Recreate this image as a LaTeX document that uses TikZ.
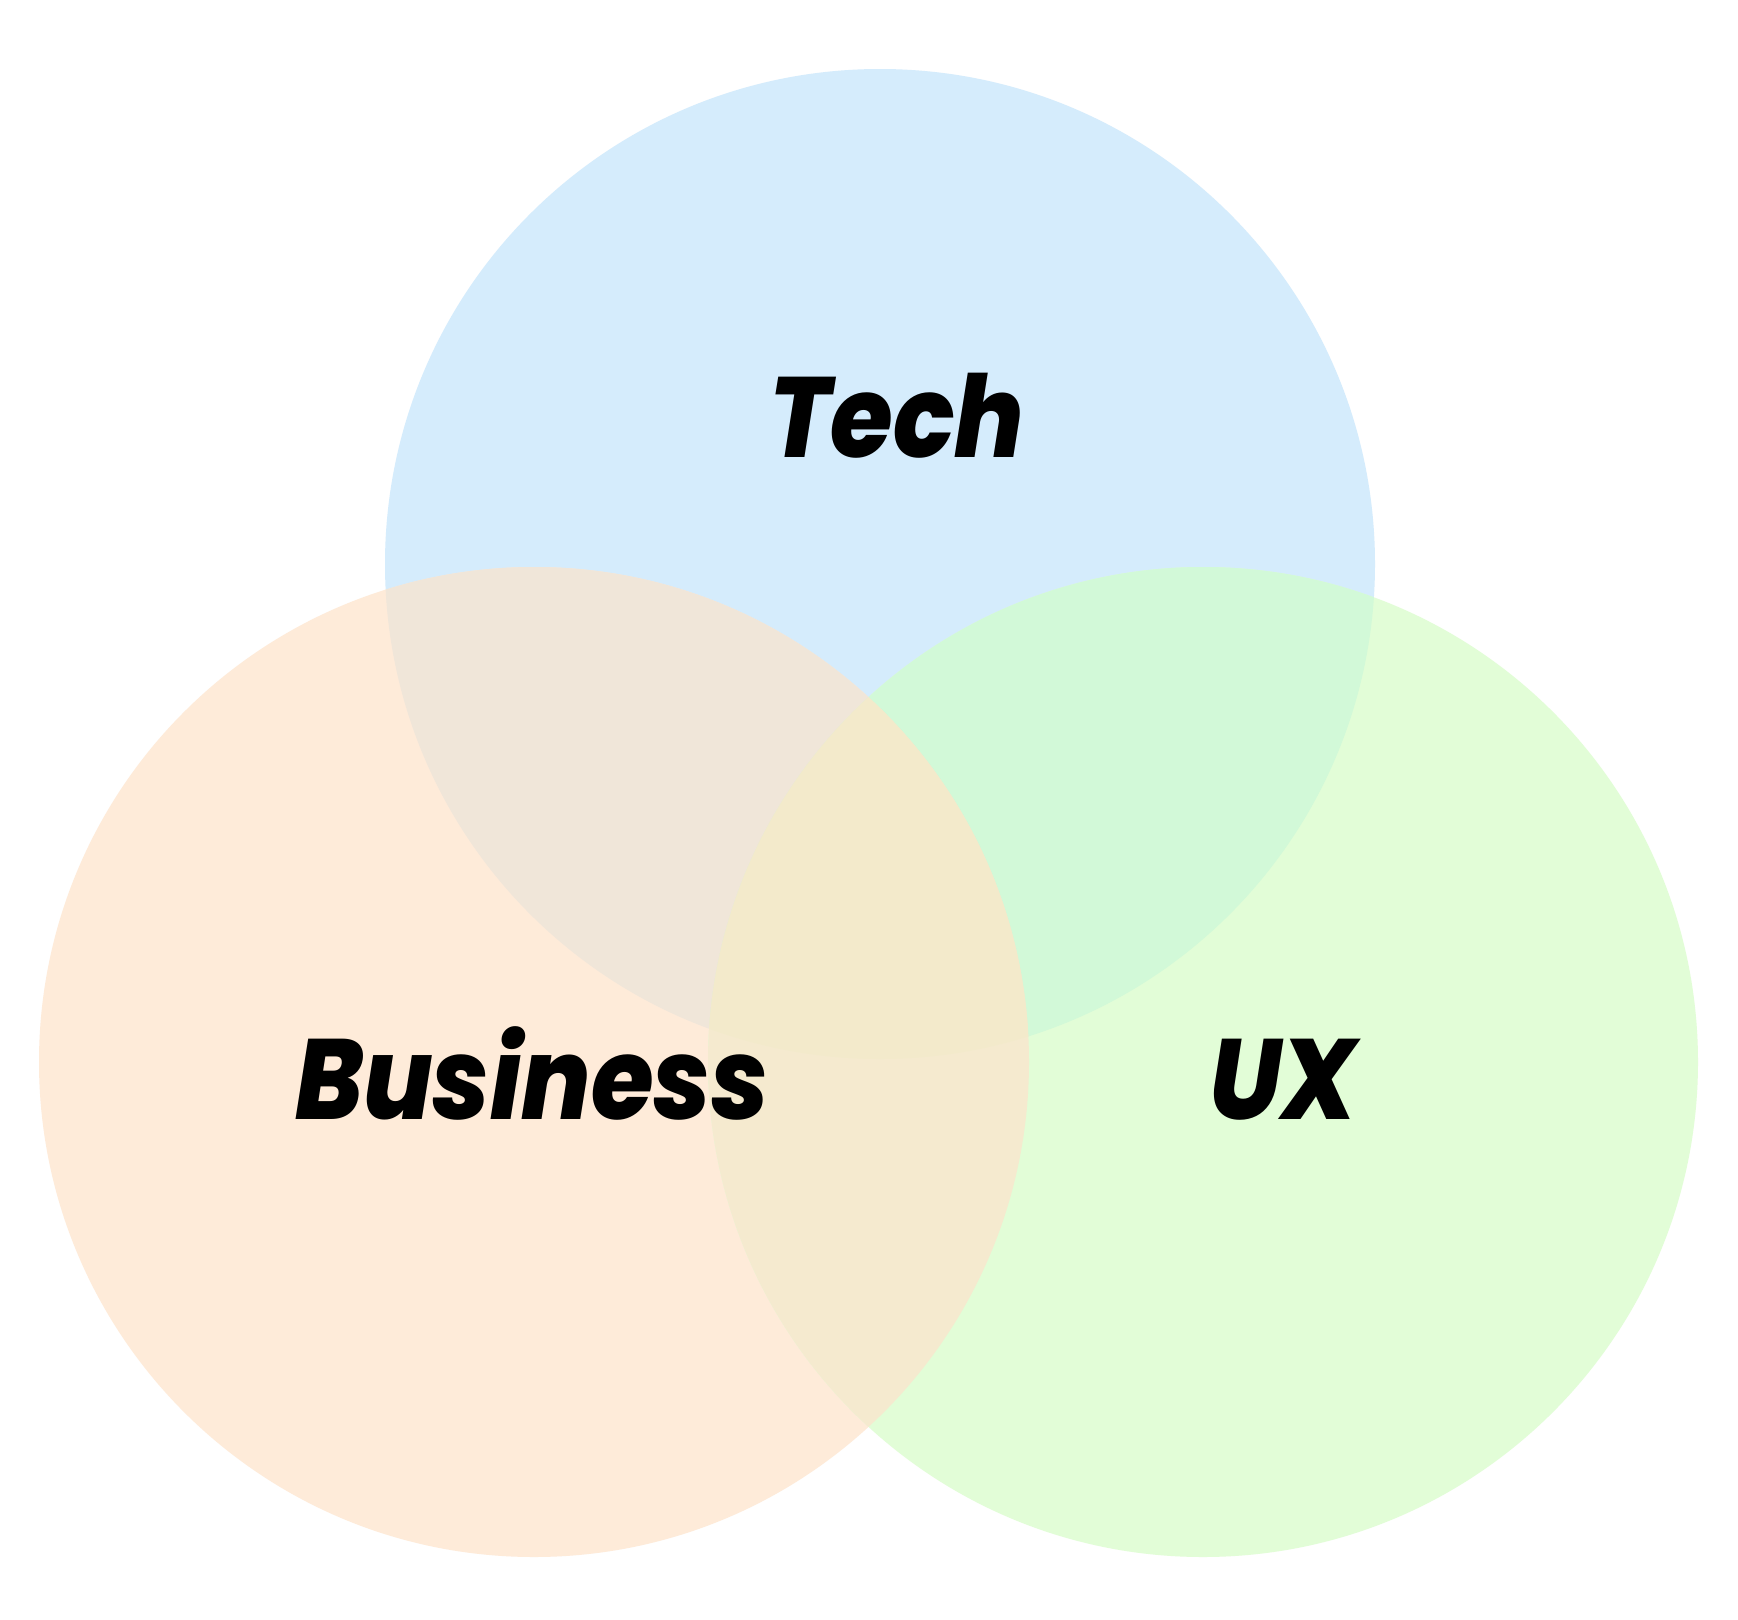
\documentclass[tikz,border=0pt]{standalone}
\usepackage{fontspec}
\setmainfont{Poppins}
\newfontfamily\lblfont{Poppins}[UprightFont={* ExtraBold Italic},FakeStretch=0.89]
\definecolor{cT}{HTML}{D5ECFC}
\definecolor{cB}{HTML}{FEEBD9}
\definecolor{cU}{HTML}{E2FDD7}
\definecolor{cTB}{HTML}{F0E6D9}
\definecolor{cTU}{HTML}{D2F9D8}
\definecolor{cBU}{HTML}{F5EACF}
\definecolor{cTBU}{HTML}{F3EACB}
\begin{document}
\begin{tikzpicture}[x=1pt,y=-1pt,
  lbl/.style={font=\lblfont\fontsize{114}{120}\selectfont, text=black, inner sep=0pt, anchor=base}]
\useasboundingbox[fill=white] (0,0) rectangle (1738,1620);
\def\R{495}
\coordinate (T) at (880,564);
\coordinate (B) at (534,1062);
\coordinate (U) at (1203,1062);
\fill[cT] (T) circle (\R);
\fill[cB] (B) circle (\R);
\fill[cU] (U) circle (\R);
\begin{scope}
  \clip (T) circle (\R);
  \fill[cTB] (B) circle (\R);
  \fill[cTU] (U) circle (\R);
\end{scope}
\begin{scope}
  \clip (B) circle (\R);
  \fill[cBU] (U) circle (\R);
  \clip (T) circle (\R);
  \fill[cTBU] (U) circle (\R);
\end{scope}
\node[lbl] (tech) at (897,457) {Tech};
\node[lbl] (bus) at (532,1119) {Business};
\node[lbl] (ux) at (1283,1119) {UX};
\end{tikzpicture}
\end{document}
